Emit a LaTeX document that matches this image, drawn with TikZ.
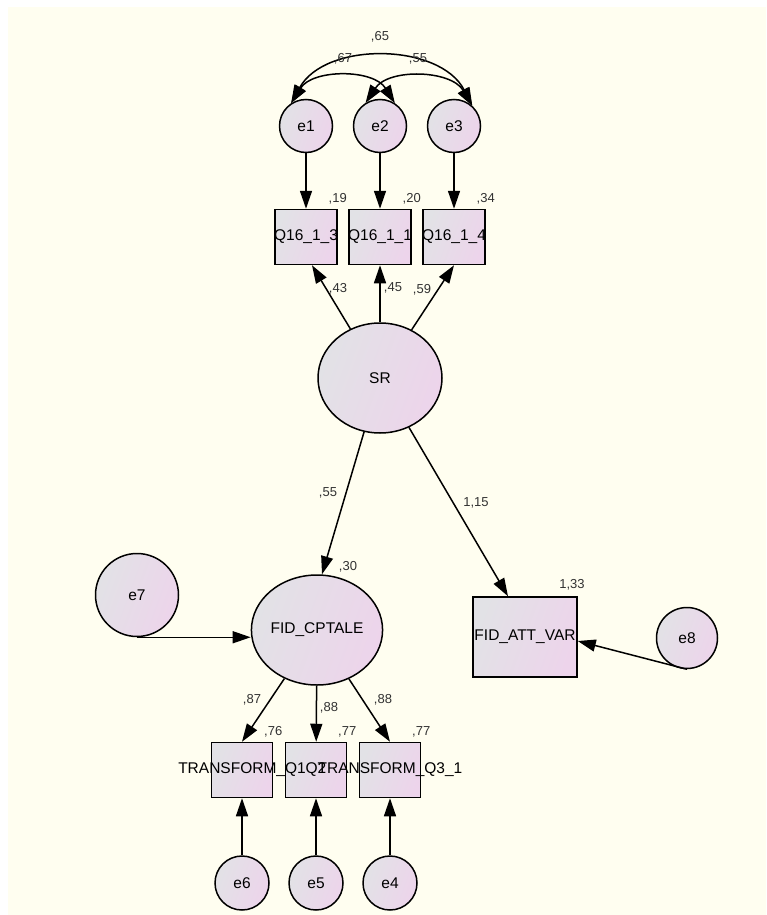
\documentclass[tikz,border=0pt]{standalone}
\usepackage{fontspec}
\setmainfont{Liberation Sans}
\usetikzlibrary{shapes}
\usetikzlibrary{arrows.meta}
\usetikzlibrary{calc,positioning}

\definecolor{amoscream}{RGB}{255,254,240}
\definecolor{amosgray}{RGB}{226,226,230}
\definecolor{amospink}{RGB}{237,212,235}
\definecolor{amostext}{RGB}{50,50,50}

\begin{document}
\begin{tikzpicture}[x=1pt,y=-1pt,>={Triangle[length=18pt,width=12pt]},
  latent/.style={ellipse, draw, line width=1.5pt, left color=amosgray, right color=amospink,
    shading angle=70, minimum width=124pt, minimum height=110pt, inner sep=0pt},
  err/.style={circle, draw, line width=1.5pt, left color=amosgray, right color=amospink,
    shading angle=70, inner sep=0pt},
  obs/.style={rectangle, draw, line width=1.5pt, left color=amosgray, right color=amospink,
    shading angle=70, minimum width=62pt, minimum height=55pt, inner sep=0pt},
  link/.style={->, line width=1.5pt},
  cov/.style={<->, line width=1.5pt},
  est/.style={font=\fontsize{13}{15}\selectfont, text=amostext, inner sep=0pt}]
  \fontsize{15.5}{18}\selectfont

\useasboundingbox (0,0) rectangle (766,915);
\fill[amoscream] (8,7) rectangle (766,915);

% measurement part of SR
\node[err, minimum size=53pt] (e1) at (306,126) {e1};
\node[err, minimum size=53pt] (e2) at (380,126) {e2};
\node[err, minimum size=53pt] (e3) at (454,126) {e3};
\node[obs, label=center:Q16\_1\_3] (q13) at (306,237) {};
\node[obs, label=center:Q16\_1\_1] (q11) at (380,237) {};
\node[obs, label=center:Q16\_1\_4] (q14) at (454,237) {};
\node[latent] (sr) at (380,378) {SR};

% outcomes
\node[latent] (fid) at (317,630) {FID\_CPTALE};
\node[obs, minimum width=104pt, minimum height=80pt, label=center:FID\_ATT\_VAR] (att) at (525,637) {};
\node[err, minimum size=83pt] (e7) at (137,595) {e7};
\node[err, minimum size=61pt] (e8) at (687,638) {e8};

% indicators of FID_CPTALE
\node[obs, minimum width=61pt] (tq1) at (242,770) {};
\node[obs, minimum width=61pt] (tq2) at (316,770) {};
\node[obs, minimum width=61pt] (tq3) at (390,770) {};
\node (ttq1) at (tq1) {TRANSFORM\_Q1};
\node (ttq2) at (tq2) {Q2};
\node (ttq3) at (tq3) {TRANSFORM\_Q3\_1};
\node[err, minimum size=54pt] (e6) at (242,883) {e6};
\node[err, minimum size=54pt] (e5) at (316,883) {e5};
\node[err, minimum size=54pt] (e4) at (390,883) {e4};

% paths
\draw[link] (e1) -- (q13);
\draw[link] (e2) -- (q11);
\draw[link] (e3) -- (q14);
\draw[link] (sr) -- ($(q13.south)+(6,0)$);
\draw[link] (sr) -- (q11);
\draw[link] (sr) -- (q14.south);
\draw[link] (sr) -- ($(fid.north)+(5,0)$);
\draw[link] (sr) -- ($(att.north)+(-17,0)$);
\draw[link] (e7.south) -- (e7.south -| fid.west);
\draw[link] (e8.south) -- ($(att.east)+(0,4)$);
\draw[link] (fid) -- (tq1.north);
\draw[link] (fid) -- (tq2);
\draw[link] (fid) -- (tq3.north);
\draw[link] (e6) -- (tq1);
\draw[link] (e5) -- (tq2);
\draw[link] (e4) -- (tq3);

% covariances
\draw[cov] (e1.123) to[bend left=62] (e3.48);
\draw[cov] (e1.123) to[bend left=58] (e2.57);
\draw[cov] (e2.122) to[bend left=58] (e3.48);

% estimates
\node[est] (c65) at (380,37) {,65};
\node[est] (c67) at (343,59) {,67};
\node[est] (c55) at (418,59) {,55};
\node[est, above=4.5pt] (v19) at (q13.north east) {,19};
\node[est, above=4.5pt] (v20) at (q11.north east) {,20};
\node[est, above=4.5pt] (v34) at (q14.north east) {,34};
\node[est] (l43) at (338,289) {,43};
\node[est] (l45) at (393,288) {,45};
\node[est] (l59) at (422,290) {,59};
\node[est] (p55) at (328,493) {,55};
\node[est] (p115) at (476,503) {1,15};
\node[est] (v30) at (348,567) {,30};
\node[est] (v133) at (572,585) {1,33};
\node[est] (l87) at (252,700) {,87};
\node[est] (l88a) at (329,708) {,88};
\node[est] (l88b) at (383,700) {,88};
\node[est, above=4.5pt] (v76) at (tq1.north east) {,76};
\node[est, above=4.5pt] (v77a) at (tq2.north east) {,77};
\node[est, above=4.5pt] (v77b) at (tq3.north east) {,77};

\end{tikzpicture}
\end{document}
